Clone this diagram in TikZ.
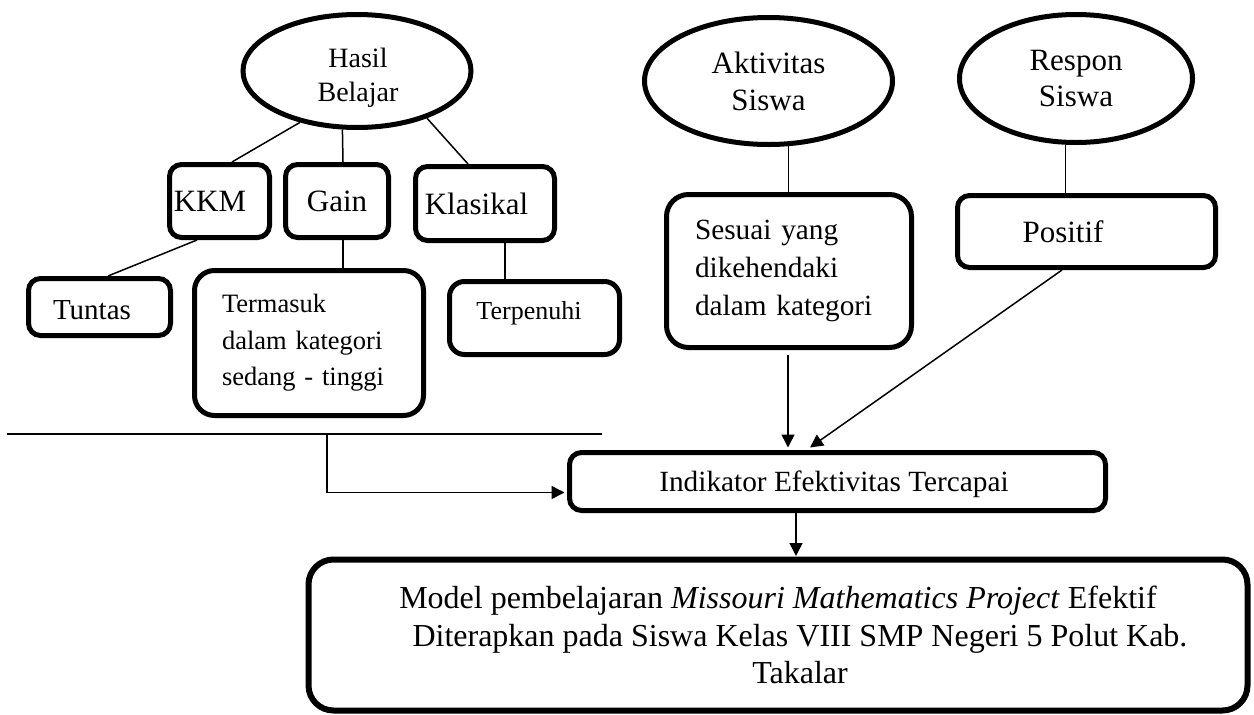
\documentclass[tikz,border=0pt]{standalone}
\usepackage{fontspec}
\setmainfont{Liberation Serif}
\usetikzlibrary{shapes.geometric,arrows.meta,calc}
\newcommand\myfs[2]{\fontsize{#1}{#2}\selectfont}
\tikzset{
  oval/.style={ellipse, draw, line width=5pt, inner sep=0pt, align=center},
  rbox/.style={draw, line width=5pt, rounded corners=12pt, inner sep=0pt},
  lbl/.style={inner sep=0pt, align=center},
  conn/.style={line width=1.5pt},
  arr/.style={line width=1.5pt, -{Triangle[length=13pt,width=13pt]}},
}
\begin{document}
\begin{tikzpicture}[x=1pt,y=-1pt]
\useasboundingbox (0,0) rectangle (1254,715);

% ellipses
\node[oval, minimum width=228pt, minimum height=113pt] (hasil) at (357,71) {};
\node[lbl, font=\myfs{28}{34}] (hasiltext) at (358,78) {Hasil\\Belajar};
\node[oval, minimum width=248pt, minimum height=127pt, font=\myfs{31}{37}] (aktiv) at (768.5,81) {Aktivitas\\Siswa};
\node[oval, minimum width=233pt, minimum height=128pt, font=\myfs{31}{36}] (respon) at (1076,78.5) {Respon\\Siswa};

% left boxes
\node[rbox, minimum width=100pt, minimum height=73pt, font=\myfs{31}{37}] (kkm) at (219.5,201) {\hspace*{-19pt}KKM};
\node[rbox, minimum width=103pt, minimum height=73pt, font=\myfs{31}{37}] (gain) at (337,201) {Gain};
\node[rbox, minimum width=139pt, minimum height=74pt, font=\myfs{31}{37}] (klasikal) at (485,203.5) {\hspace*{-17pt}Klasikal};
\node[rbox, minimum width=142pt, minimum height=57pt] (tuntas) at (99.5,307) {};
\node[lbl, font=\myfs{29}{35}] (tuntastext) at (92,310) {Tuntas};
\node[rbox, rounded corners=20pt, text width=174pt, inner xsep=27.5pt, minimum height=145pt, align=left, font=\myfs{26.5}{36.5}] (termasuk) at (309,343) {Termasuk\\dalam kategori\\sedang - tinggi};
\node[rbox, rounded corners=15pt, minimum width=170pt, minimum height=73pt] (terpenuhi) at (534.5,318) {};
\node[lbl, font=\myfs{26}{31}] (terptext) at (529,313) {Terpenuhi};

% right boxes
\node[rbox, rounded corners=22pt, text width=188pt, inner xsep=28.5pt, minimum height=153pt, align=left, font=\myfs{29.3}{38}] (sesuai) at (789,271) {Sesuai yang\\dikehendaki\\dalam kategori};
\node[rbox, minimum width=258pt, minimum height=72pt, font=\myfs{31}{37}] (positif) at (1086.5,231.5) {\hspace*{-47pt}Positif};

% lower boxes
\node[rbox, minimum width=536pt, minimum height=58pt] (indikator) at (837.5,481.5) {};
\node[lbl, font=\myfs{29.3}{35}] (indtext) at (834,484) {Indikator Efektivitas Tercapai};
\node[rbox, rounded corners=25pt, line width=6pt, minimum width=939pt, minimum height=151pt, align=center, font=\myfs{32}{37.5}] (model) at (778,635) {Model pembelajaran \textit{Missouri Mathematics Project} Efektif\\\hspace*{44pt}Diterapkan pada Siswa Kelas VIII SMP Negeri 5 Polut Kab.\\\hspace*{44pt}Takalar};

% connectors
\draw[conn] (hasil.222) -- ([xshift=12.5pt]kkm.north);
\draw[conn] (hasil.256) -- ([xshift=6pt]gain.north);
\draw[conn] (hasil.326) -- ([xshift=-17pt]klasikal.north);
\draw[conn] ([xshift=-22.5pt]kkm.south) -- ([xshift=8.5pt]tuntas.north);
\draw[conn] ([xshift=6pt]gain.south) -- ([xshift=34pt]termasuk.north);
\draw[conn] ([xshift=20pt]klasikal.south) -- ([xshift=-29.5pt]terpenuhi.north);
\draw[conn] (aktiv.287) -- (aktiv.287 |- sesuai.north);
\draw[conn] (respon.261) -- (respon.261 |- positif.north);

\coordinate (hl) at (7,434);
\coordinate (hr) at (602,434);
\coordinate (hs) at (327,434);
\draw[conn] (hl) -- (hr);
\draw[arr] (hs) |- ($(indikator.west)+(-2.5,11)$);

\draw[arr] ($(sesuai.south)+(-1,5)$) -- ($(sesuai.south |- indikator.north)+(-1,-2.5)$);
\draw[arr] ([xshift=-24.5pt]positif.south) -- ($(indikator.north)+(-27.5,-2.5)$);
\draw[arr] ([xshift=-41.5pt]indikator.south) -- ($([xshift=-41.5pt]indikator.south)+(0,43)$);
\end{tikzpicture}
\end{document}
